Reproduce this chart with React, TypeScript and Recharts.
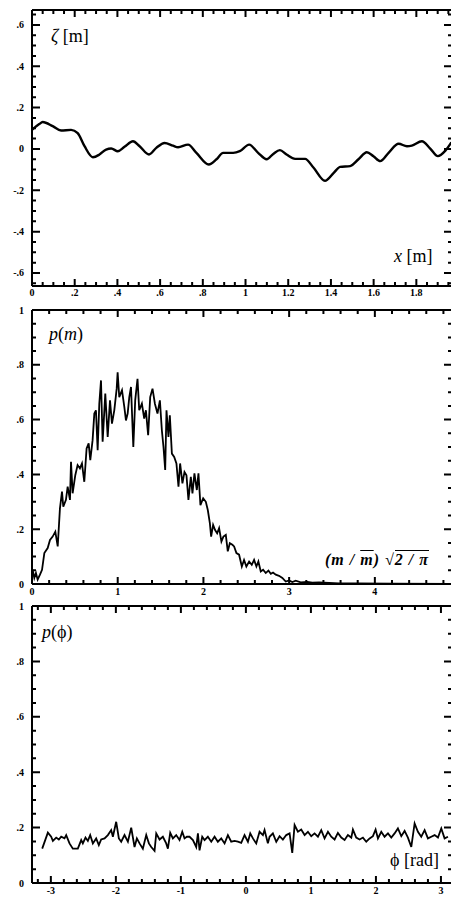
import React from "react";
import { LineChart, Line, XAxis, YAxis } from "recharts";

// panel 1: surface elevation zeta(x)
const zetaX = [0, 0.034, 0.05, 0.097, 0.136, 0.183, 0.214, 0.246, 0.285, 0.316, 0.347, 0.371, 0.402, 0.433, 0.473, 0.504, 0.548, 0.582, 0.621, 0.66, 0.684, 0.731, 0.77, 0.828, 0.864, 0.895, 0.942, 0.973, 1.017, 1.059, 1.099, 1.13, 1.161, 1.192, 1.232, 1.279, 1.318, 1.372, 1.412, 1.443, 1.49, 1.529, 1.568, 1.599, 1.631, 1.67, 1.717, 1.756, 1.779, 1.826, 1.865, 1.901, 1.936, 1.964];
const zetaY = [0.092, 0.12, 0.13, 0.11, 0.089, 0.092, 0.076, 0.013, -0.04, -0.027, -0.003, 0.002, -0.011, 0.01, 0.037, 0.013, -0.027, 0.005, 0.029, 0.016, 0.008, 0.021, -0.019, -0.075, -0.05, -0.019, -0.019, -0.011, 0.021, -0.019, -0.05, -0.024, -0.006, -0.027, -0.048, -0.048, -0.09, -0.154, -0.117, -0.087, -0.083, -0.05, -0.016, -0.035, -0.059, -0.019, 0.025, 0.013, 0.016, 0.037, 0.002, -0.035, -0.008, 0.032];

// panel 2: amplitude distribution p(m)
const ampX = [0.007, 0.027, 0.046, 0.066, 0.093, 0.117, 0.144, 0.183, 0.21, 0.241, 0.272, 0.3, 0.326, 0.35, 0.365, 0.396, 0.416, 0.443, 0.455, 0.474, 0.505, 0.532, 0.559, 0.583, 0.61, 0.637, 0.661, 0.68, 0.707, 0.727, 0.746, 0.766, 0.785, 0.805, 0.824, 0.855, 0.883, 0.91, 0.933, 0.96, 0.988, 0.999, 1.018, 1.05, 1.077, 1.096, 1.116, 1.135, 1.155, 1.182, 1.204, 1.231, 1.251, 1.282, 1.309, 1.329, 1.355, 1.379, 1.406, 1.434, 1.464, 1.492, 1.515, 1.534, 1.554, 1.569, 1.592, 1.608, 1.632, 1.659, 1.685, 1.709, 1.728, 1.755, 1.779, 1.802, 1.825, 1.853, 1.872, 1.895, 1.923, 1.942, 1.965, 1.997, 2.028, 2.051, 2.075, 2.09, 2.113, 2.136, 2.16, 2.183, 2.21, 2.233, 2.261, 2.284, 2.308, 2.338, 2.358, 2.385, 2.416, 2.448, 2.474, 2.501, 2.533, 2.564, 2.591, 2.618, 2.641, 2.669, 2.696, 2.727, 2.758, 2.786, 2.812, 2.844, 2.882, 2.921, 2.96, 2.999, 3.037, 3.077, 3.135, 3.212, 3.27, 3.349, 3.465, 3.582, 3.8, 4.2, 4.9];
const ampY = [0.052, 0.022, 0.04, 0.016, 0.034, 0.052, 0.113, 0.131, 0.161, 0.173, 0.191, 0.137, 0.276, 0.337, 0.282, 0.307, 0.355, 0.307, 0.446, 0.331, 0.397, 0.434, 0.422, 0.44, 0.373, 0.495, 0.513, 0.452, 0.525, 0.622, 0.634, 0.488, 0.658, 0.743, 0.519, 0.695, 0.537, 0.67, 0.585, 0.634, 0.713, 0.773, 0.682, 0.707, 0.646, 0.597, 0.622, 0.682, 0.719, 0.5, 0.67, 0.749, 0.634, 0.658, 0.604, 0.634, 0.543, 0.682, 0.713, 0.658, 0.622, 0.67, 0.561, 0.5, 0.416, 0.634, 0.537, 0.616, 0.476, 0.464, 0.44, 0.355, 0.44, 0.367, 0.409, 0.397, 0.307, 0.391, 0.331, 0.404, 0.343, 0.404, 0.288, 0.313, 0.3, 0.27, 0.222, 0.173, 0.216, 0.197, 0.185, 0.204, 0.155, 0.173, 0.179, 0.119, 0.149, 0.143, 0.137, 0.113, 0.107, 0.064, 0.088, 0.064, 0.082, 0.07, 0.088, 0.064, 0.082, 0.046, 0.052, 0.04, 0.049, 0.037, 0.042, 0.034, 0.03, 0.022, 0.009, 0.013, 0.007, 0.012, 0.006, 0.008, 0.005, 0.006, 0.004, 0.002, 0.002, 0.001, 0];

// panel 3: phase distribution p(phi)
const phaseX = [-3.133, -3.046, -2.995, -2.969, -2.918, -2.877, -2.841, -2.79, -2.764, -2.713, -2.662, -2.585, -2.533, -2.508, -2.467, -2.431, -2.395, -2.354, -2.303, -2.262, -2.226, -2.174, -2.123, -2.072, -2.046, -1.995, -1.954, -1.918, -1.867, -1.815, -1.764, -1.713, -1.677, -1.636, -1.585, -1.533, -1.492, -1.456, -1.405, -1.379, -1.328, -1.277, -1.226, -1.2, -1.164, -1.123, -1.072, -1.021, -0.979, -0.944, -0.908, -0.867, -0.815, -0.764, -0.738, -0.713, -0.672, -0.636, -0.585, -0.533, -0.482, -0.431, -0.379, -0.328, -0.277, -0.226, -0.174, -0.123, -0.072, -0.021, 0.031, 0.067, 0.108, 0.159, 0.21, 0.262, 0.287, 0.338, 0.364, 0.415, 0.467, 0.518, 0.569, 0.621, 0.672, 0.713, 0.749, 0.8, 0.851, 0.903, 0.954, 1.005, 1.056, 1.108, 1.159, 1.21, 1.262, 1.313, 1.364, 1.415, 1.467, 1.518, 1.569, 1.621, 1.646, 1.697, 1.749, 1.8, 1.851, 1.903, 1.954, 1.995, 2.031, 2.082, 2.133, 2.185, 2.236, 2.287, 2.338, 2.39, 2.441, 2.492, 2.544, 2.595, 2.646, 2.697, 2.749, 2.8, 2.851, 2.903, 2.954, 3.005, 3.056, 3.108];
const phaseY = [0.124, 0.182, 0.167, 0.152, 0.164, 0.157, 0.167, 0.161, 0.173, 0.143, 0.124, 0.124, 0.155, 0.143, 0.164, 0.152, 0.173, 0.143, 0.161, 0.137, 0.157, 0.161, 0.173, 0.191, 0.167, 0.221, 0.161, 0.149, 0.173, 0.149, 0.2, 0.13, 0.161, 0.143, 0.124, 0.173, 0.143, 0.13, 0.116, 0.179, 0.157, 0.167, 0.143, 0.124, 0.181, 0.161, 0.173, 0.155, 0.185, 0.161, 0.167, 0.167, 0.155, 0.13, 0.179, 0.118, 0.167, 0.155, 0.167, 0.149, 0.167, 0.149, 0.161, 0.143, 0.173, 0.149, 0.152, 0.149, 0.145, 0.173, 0.149, 0.179, 0.161, 0.143, 0.185, 0.173, 0.191, 0.143, 0.167, 0.179, 0.149, 0.169, 0.157, 0.173, 0.179, 0.109, 0.209, 0.185, 0.193, 0.173, 0.185, 0.169, 0.179, 0.167, 0.191, 0.161, 0.185, 0.167, 0.157, 0.181, 0.164, 0.155, 0.173, 0.164, 0.193, 0.164, 0.157, 0.164, 0.149, 0.161, 0.169, 0.193, 0.161, 0.185, 0.167, 0.179, 0.164, 0.179, 0.197, 0.169, 0.188, 0.164, 0.13, 0.215, 0.185, 0.167, 0.191, 0.161, 0.167, 0.173, 0.164, 0.197, 0.161, 0.167];

const zetaMajor = [-0.6, -0.4, -0.2, 0, 0.2, 0.4, 0.6];
const xMajor = [0, 0.2, 0.4, 0.6, 0.8, 1, 1.2, 1.4, 1.6, 1.8];
const probMajor = [0, 0.2, 0.4, 0.6, 0.8, 1];
const ampMajor = [0, 1, 2, 3, 4];
const phaseMajor = [-3, -2, -1, 0, 1, 2, 3];

const range = (a: number, b: number, step: number) => {
  const out: number[] = [];
  for (let v = a; v <= b + 1e-9; v += step) out.push(Math.round(v * 1000) / 1000);
  return out;
};

const zip = (xs: number[], ys: number[]) => xs.map((x, i) => ({ x, y: ys[i] }));

const fmt = (v: number) => {
  if (v === 0) return "0";
  return String(v).replace(/^0\./, ".").replace(/^-0\./, "-.");
};

const isMajor = (majors: number[], v: number) => majors.some((m) => Math.abs(m - v) < 1e-6);

const FONT = "'Liberation Serif', 'Times New Roman', serif";

function makeLabel(side: string, majors: number[], labelOffset = 11) {
  return (props: any) => {
    const x = Number(props.x);
    const y = Number(props.y);
    const v = Number(props.payload.value);
    if (!isMajor(majors, v)) return <g />;
    if (side === "bottom")
      return (
        <text x={x} y={y + labelOffset} textAnchor="middle" fontSize={10} fontWeight="bold" fontFamily={FONT} fill="#000">
          {fmt(v)}
        </text>
      );
    return (
      <text x={x - 8} y={y + 3.5} textAnchor="end" fontSize={10} fontWeight="bold" fontFamily={FONT} fill="#000">
        {fmt(v)}
      </text>
    );
  };
}

const axisLine = { stroke: "#000", strokeWidth: 2 };
const CHART_W = 453;
const LEFT = 32;
const PLOT_W = 420;

type PanelProps = {
  data: { x: number; y: number }[];
  offsetY: number;
  height: number;
  top: number;
  xDomain: [number, number];
  yDomain: [number, number];
  xTicks: number[];
  yTicks: number[];
  xMajor: number[];
  yMajor: number[];
  bottomH: number;
  labelOffset: number;
  curve: "monotone" | "linear";
  sw: number;
};

function Panel(p: PanelProps) {
  return (
    <LineChart width={CHART_W} height={p.height} data={p.data} margin={{ top: p.top - 1, right: 0, bottom: 0, left: 0 }}>
      <XAxis type="number" dataKey="x" domain={p.xDomain} ticks={p.xMajor} interval={0} allowDataOverflow height={p.bottomH}
        tickSize={0} tickMargin={0} axisLine={axisLine} tickLine={false} tick={makeLabel("bottom", p.xMajor, p.labelOffset)} />
      <XAxis type="number" xAxisId="t" dataKey="x" orientation="top" domain={p.xDomain} allowDataOverflow height={1}
        axisLine={axisLine} tickLine={false} tick={false} />
      <YAxis type="number" domain={p.yDomain} ticks={p.yMajor} interval={0} allowDataOverflow width={LEFT}
        tickSize={0} tickMargin={0} axisLine={axisLine} tickLine={false} tick={makeLabel("left", p.yMajor)} />
      <YAxis type="number" yAxisId="r" orientation="right" domain={p.yDomain} allowDataOverflow width={1}
        axisLine={axisLine} tickLine={false} tick={false} />
      <Line dataKey="y" type={p.curve} stroke="#000" strokeWidth={p.sw} dot={false} isAnimationActive={false} />
      <Line xAxisId="t" yAxisId="r" dataKey="y" stroke="none" dot={false} legendType="none" isAnimationActive={false} />
    </LineChart>
  );
}

// inward tick marks on all four sides of a panel frame
function Ticks(p: PanelProps) {
  const top = p.offsetY + p.top;
  const bottom = p.offsetY + p.height - p.bottomH;
  const left = LEFT;
  const right = LEFT + PLOT_W;
  const sx = (v: number) => left + ((v - p.xDomain[0]) / (p.xDomain[1] - p.xDomain[0])) * PLOT_W;
  const sy = (v: number) => bottom - ((v - p.yDomain[0]) / (p.yDomain[1] - p.yDomain[0])) * (bottom - top);
  const d: string[] = [];
  p.xTicks.forEach((v) => {
    const len = isMajor(p.xMajor, v) ? 7 : 4;
    const x = sx(v);
    d.push(`M${x},${bottom}V${bottom - len}`, `M${x},${top}V${top + len}`);
  });
  p.yTicks.forEach((v) => {
    const len = isMajor(p.yMajor, v) ? 8 : 4;
    const y = sy(v);
    d.push(`M${left},${y}H${left + len}`, `M${right},${y}H${right - len}`);
  });
  return <path d={d.join("")} stroke="#000" strokeWidth={2} fill="none" />;
}

const lbl: React.CSSProperties = {
  position: "absolute",
  fontFamily: FONT,
  fontSize: 18,
  lineHeight: "18px",
  color: "#000",
  whiteSpace: "nowrap",
};

const panels: PanelProps[] = [
  {
    data: zip(zetaX, zetaY), offsetY: 0, height: 298, top: 10, xDomain: [0, 1.967], yDomain: [-0.663, 0.672],
    xTicks: range(0, 1.95, 0.05), yTicks: range(-0.65, 0.65, 0.05), xMajor, yMajor: zetaMajor,
    bottomH: 12, labelOffset: 10, curve: "monotone", sw: 2.4,
  },
  {
    data: zip(ampX, ampY), offsetY: 298, height: 298, top: 12, xDomain: [0, 4.9], yDomain: [0, 1],
    xTicks: range(0, 4.8, 0.2), yTicks: range(0, 1, 0.05), xMajor: ampMajor, yMajor: probMajor,
    bottomH: 12, labelOffset: 11, curve: "linear", sw: 1.8,
  },
  {
    data: zip(phaseX, phaseY), offsetY: 596, height: 301, top: 10, xDomain: [-3.29, 3.17], yDomain: [0, 1],
    xTicks: range(-3.2, 3.2, 0.2), yTicks: range(0, 1, 0.05), xMajor: phaseMajor, yMajor: probMajor,
    bottomH: 14, labelOffset: 11, curve: "linear", sw: 1.8,
  },
];

export default function App() {
  return (
    <div style={{ position: "relative", width: 451, height: 897, overflow: "hidden", background: "#fff" }}>
      <style>{`body{margin:0}`}</style>
      {panels.map((p, i) => (
        <Panel key={i} {...p} />
      ))}
      <svg width={CHART_W} height={897} style={{ position: "absolute", left: 0, top: 0, pointerEvents: "none" }}>
        {panels.map((p, i) => (
          <Ticks key={i} {...p} />
        ))}
      </svg>

      <div style={{ ...lbl, left: 51, top: 27 }}><i>ζ</i> [m]</div>
      <div style={{ ...lbl, left: 394, top: 247 }}><i>x</i> [m]</div>
      <div style={{ ...lbl, left: 49, top: 325 }}><i>p</i>(<i>m</i>)</div>
      <div style={{ ...lbl, left: 325, top: 551, fontStyle: "italic", fontWeight: "bold", fontSize: 16, letterSpacing: 1 }}>
        (m / <span style={{ textDecoration: "overline" }}>m</span>) √<span style={{ borderTop: "1.5px solid #000" }}>2 / π</span>
      </div>
      <div style={{ ...lbl, left: 42, top: 623 }}><i>p</i>(ϕ)</div>
      <div style={{ ...lbl, left: 390, top: 851 }}>ϕ [rad]</div>
    </div>
  );
}
